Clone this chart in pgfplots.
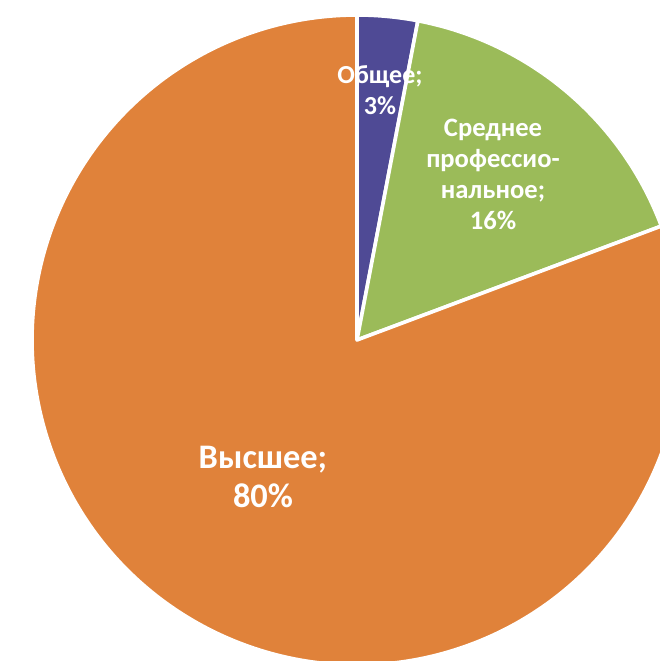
\documentclass[border=0pt]{standalone}
\usepackage{pgfplots}
\usepackage{pgfplotstable}
\pgfplotsset{compat=1.18}
\usepackage{fontspec}
\setmainfont{Carlito}

\definecolor{obsh}{HTML}{4F4A95}
\definecolor{sred}{HTML}{9BBB59}
\definecolor{vysh}{HTML}{E0823A}

% share of respondents, percent
\pgfplotstableread{
value
3.0
16.3
80.7
}\piedata

\pgfplotstablegetelem{0}{value}\of\piedata \let\va\pgfplotsretval
\pgfplotstablegetelem{1}{value}\of\piedata \let\vb\pgfplotsretval
\pgfplotstablegetelem{2}{value}\of\piedata \let\vc\pgfplotsretval
\pgfmathsetmacro\tot{\va+\vb+\vc}
\pgfmathsetmacro\aA{90}
\pgfmathsetmacro\aB{\aA-360*(\va/\tot)}
\pgfmathsetmacro\aC{\aB-360*(\vb/\tot)}
\pgfmathsetmacro\aD{\aC-360*(\vc/\tot)}

\begin{document}
\begin{tikzpicture}
\begin{axis}[
  scale only axis,
  width=330pt, height=330.5pt,
  xmin=-357, xmax=303,
  ymin=-321, ymax=340,
  hide axis,
  clip=true,
]
\def\R{325}
\filldraw[fill=obsh, draw=white, line width=1.8pt, line join=round]
  (axis cs:0,0) -- (axis cs:{\R*cos(\aA)},{\R*sin(\aA)})
  arc[start angle=\aA, end angle=\aB, radius=162.5pt] -- cycle;
\filldraw[fill=sred, draw=white, line width=1.8pt, line join=round]
  (axis cs:0,0) -- (axis cs:{\R*cos(\aB)},{\R*sin(\aB)})
  arc[start angle=\aB, end angle=\aC, radius=162.5pt] -- cycle;
\filldraw[fill=vysh, draw=white, line width=1.8pt, line join=round]
  (axis cs:0,0) -- (axis cs:{\R*cos(\aC)},{\R*sin(\aC)})
  arc[start angle=\aC, end angle=\aD, radius=162.5pt] -- cycle;

\node[text=white, font=\bfseries\fontsize{13}{15.5}\selectfont, align=center]
  at (axis cs:23,250) {Общее;\\3\%};
\node[text=white, font=\bfseries\fontsize{13.3}{15.5}\selectfont, align=center]
  at (axis cs:136,166) {Среднее\\профессио-\\нальное;\\16\%};
\node[text=white, font=\bfseries\fontsize{17.2}{19.5}\selectfont, align=center]
  at (axis cs:-94,-137) {Высшее;\\80\%};
\end{axis}
\pgfresetboundingbox
\useasboundingbox (current axis.south west) rectangle (current axis.north east);
\end{tikzpicture}
\end{document}
